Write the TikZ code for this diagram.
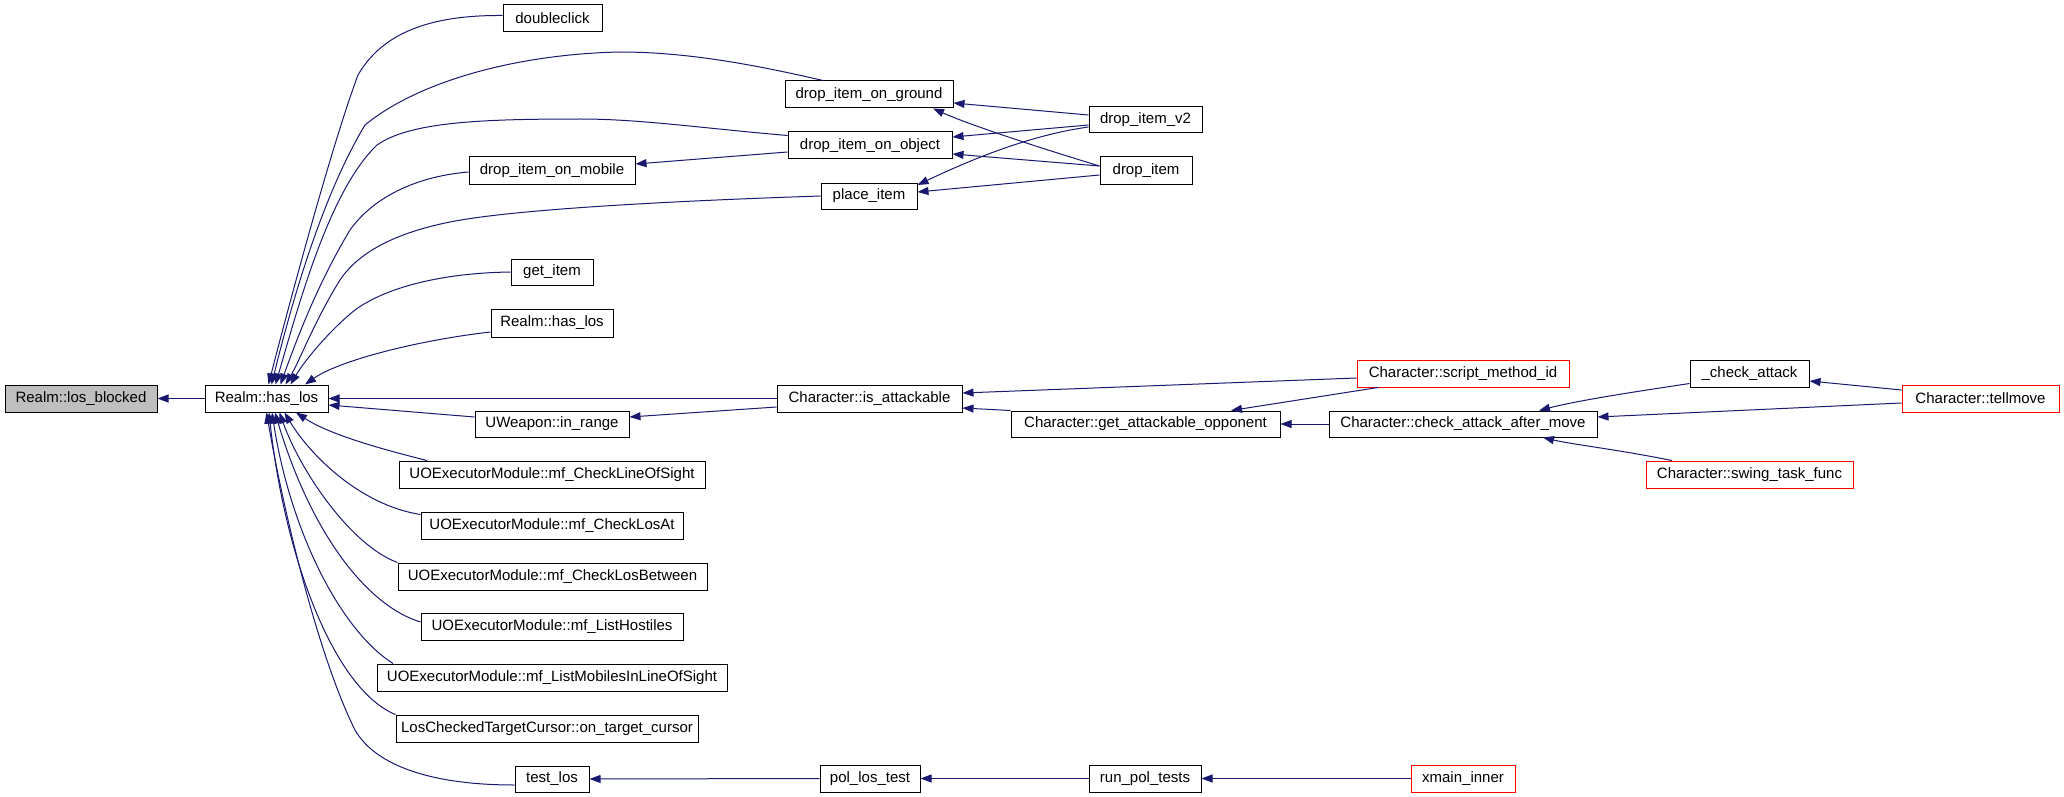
\documentclass[tikz,border=0pt]{standalone}
\usepackage{fontspec}
\setmainfont{Liberation Sans}
\usetikzlibrary{arrows.meta}
\definecolor{edgeblue}{HTML}{191970}
\definecolor{boxgray}{HTML}{BFBFBF}
\definecolor{boxred}{HTML}{FF0000}
\begin{document}
\begin{tikzpicture}[x=1pt,y=-1pt,
  fn/.style={draw=black, line width=1pt, inner sep=0pt, font=\fontsize{15}{18}\selectfont, fill=white},
  fnred/.style={fn, draw=boxred},
  fngray/.style={fn, fill=boxgray},
  edge/.style={draw=edgeblue, line width=1pt, -{Triangle[length=11pt,width=8pt]}},
]
\useasboundingbox (0,0) rectangle (2064,797);
\fill[white] (0,0) rectangle (2064,797);

% nodes
\node[fngray, minimum width=152pt, minimum height=27pt] (lb) at (81,398.5) {Realm::los\_blocked};
\node[fn, minimum width=123pt, minimum height=27pt] (hl) at (266.5,398.5) {Realm::has\_los};
\node[fn, minimum width=99pt, minimum height=27pt] (dc) at (552.5,18.5) {doubleclick};
\node[fn, minimum width=168pt, minimum height=27pt] (gr) at (869,94.5) {drop\_item\_on\_ground};
\node[fn, minimum width=164pt, minimum height=27pt] (ob) at (870,145.5) {drop\_item\_on\_object};
\node[fn, minimum width=166pt, minimum height=27pt] (mo) at (552,170.5) {drop\_item\_on\_mobile};
\node[fn, minimum width=96pt, minimum height=26pt] (pl) at (869,196) {place\_item};
\node[fn, minimum width=113pt, minimum height=26pt] (v2) at (1145.5,120) {drop\_item\_v2};
\node[fn, minimum width=92pt, minimum height=27pt] (di) at (1146,170.5) {drop\_item};
\node[fn, minimum width=82pt, minimum height=26pt] (gi) at (552,272) {get\_item};
\node[fn, minimum width=122pt, minimum height=28pt] (h2) at (552,323) {Realm::has\_los};
\node[fn, minimum width=185pt, minimum height=27pt] (ia) at (869.5,398.5) {Character::is\_attackable};
\node[fn, minimum width=154pt, minimum height=26pt] (ir) at (552,424) {UWeapon::in\_range};
\node[fnred, minimum width=212pt, minimum height=27pt] (sm) at (1463,373.5) {Character::script\_method\_id};
\node[fn, minimum width=269pt, minimum height=26pt] (op) at (1145.5,424) {Character::get\_attackable\_opponent};
\node[fn, minimum width=268pt, minimum height=26pt] (ck) at (1463,424) {Character::check\_attack\_after\_move};
\node[fn, minimum width=119pt, minimum height=27pt] (ca) at (1749.5,373.5) {\_check\_attack};
\node[fnred, minimum width=157pt, minimum height=27pt] (tm) at (1980.5,398.5) {Character::tellmove};
\node[fnred, minimum width=207pt, minimum height=27pt] (sw) at (1749.5,474.5) {Character::swing\_task\_func};
\node[fn, minimum width=306pt, minimum height=27pt] (c1) at (552,474.5) {UOExecutorModule::mf\_CheckLineOfSight};
\node[fn, minimum width=262pt, minimum height=27pt] (c2) at (552,525.5) {UOExecutorModule::mf\_CheckLosAt};
\node[fn, minimum width=309pt, minimum height=27pt] (c3) at (552.5,576.5) {UOExecutorModule::mf\_CheckLosBetween};
\node[fn, minimum width=262pt, minimum height=27pt] (c4) at (552,626.5) {UOExecutorModule::mf\_ListHostiles};
\node[fn, minimum width=350pt, minimum height=27pt] (c5) at (552,677.5) {UOExecutorModule::mf\_ListMobilesInLineOfSight};
\node[fn, minimum width=302pt, minimum height=27pt] (c6) at (547,728.5) {LosCheckedTargetCursor::on\_target\_cursor};
\node[fn, minimum width=74pt, minimum height=26pt] (tl) at (552,779) {test\_los};
\node[fn, minimum width=100pt, minimum height=27pt] (pt) at (870,778.5) {pol\_los\_test};
\node[fn, minimum width=112pt, minimum height=27pt] (rp) at (1145,778.5) {run\_pol\_tests};
\node[fnred, minimum width=104pt, minimum height=27pt] (xm) at (1463,778.5) {xmain\_inner};

% edges into Realm::has_los (left)
\draw[edge] (hl.west) -- (lb.east);
\draw[edge] ([yshift=3pt]dc.west) .. controls (440,15) and (385,28) .. (358,75) .. controls (330,150) and (285,320) .. ([xshift=2pt]hl.north);
\draw[edge] ([xshift=-46pt]gr.north) .. controls (760,66) and (690,52) .. (620,52) .. controls (520,54) and (420,80) .. (365,125) .. controls (320,200) and (290,310) .. ([xshift=5pt]hl.north);
\draw[edge] ([yshift=10pt]ob.west) .. controls (700,128) and (640,119) .. (580,119) .. controls (480,119) and (410,122) .. (377,145) .. controls (330,190) and (300,300) .. ([xshift=9pt]hl.north);
\draw[edge] ([yshift=-1.5pt]mo.west) .. controls (420,176) and (375,195) .. (350,230) .. controls (320,280) and (300,330) .. ([xshift=14pt]hl.north);
\draw[edge] (pl.west) .. controls (700,200) and (520,208) .. (450,222) .. controls (400,232) and (360,250) .. (340,280) .. controls (315,320) and (300,360) .. ([xshift=19pt]hl.north);
\draw[edge] (gi.west) .. controls (440,273) and (385,288) .. (355,310) .. controls (330,330) and (305,360) .. ([xshift=24pt]hl.north);
\draw[edge] ([yshift=-9pt]h2.west) .. controls (420,340) and (340,360) .. ([xshift=38.5pt]hl.north);
\draw[edge] (ia.west) -- (hl.east);
\draw[edge] ([yshift=7pt]ir.west) -- ([yshift=-6.5pt]hl.east);
\draw[edge] ([xshift=-125pt]c1.north) .. controls (385,450) and (330,435) .. ([xshift=29.5pt]hl.south);
\draw[edge] ([yshift=11pt]c2.west) .. controls (360,505) and (310,455) .. ([xshift=18pt]hl.south);
\draw[edge] (c3.north west) .. controls (350,545) and (300,470) .. ([xshift=13pt]hl.south);
\draw[edge] ([yshift=4.5pt]c4.west) .. controls (365,605) and (310,530) .. ([xshift=8.5pt]hl.south);
\draw[edge] ([xshift=-159pt]c5.north) .. controls (340,630) and (290,530) .. ([xshift=5.5pt]hl.south);
\draw[edge] (c6.north west) .. controls (335,690) and (285,560) .. ([xshift=2.5pt]hl.south);
\draw[edge] ([yshift=-6pt]tl.west) .. controls (430,785) and (375,765) .. (355,730) .. controls (320,660) and (285,520) .. (hl.south);

% drop item cluster
\draw[edge] ([yshift=5pt]v2.west) -- ([yshift=-8.5pt]gr.east);
\draw[edge] ([yshift=4.5pt]di.west) .. controls (1040,148) and (970,125) .. ([xshift=64pt]gr.south);
\draw[edge] ([yshift=-5pt]v2.west) -- ([yshift=8.5pt]ob.east);
\draw[edge] ([yshift=4.5pt]di.west) -- ([yshift=-8.5pt]ob.east);
\draw[edge] ([yshift=-7pt]v2.west) .. controls (1030,135) and (970,160) .. ([yshift=11pt]pl.east);
\draw[edge] ([yshift=-4.5pt]di.west) -- ([yshift=4pt]pl.east);
\draw[edge] ([yshift=-6.5pt]ob.west) -- ([yshift=6.5pt]mo.east);

% attack cluster
\draw[edge] ([yshift=-8.5pt]ia.west) -- ([yshift=7pt]ir.east);
\draw[edge] ([yshift=-4.5pt]sm.west) -- ([yshift=5.5pt]ia.east);
\draw[edge] (op.north west) -- ([yshift=-9.5pt]ia.east);
\draw[edge] ([xshift=-85pt]sm.south) -- ([xshift=85.5pt]op.north);
\draw[edge] (ck.west) -- (op.east);
\draw[edge] ([yshift=-10pt]ca.west) .. controls (1640,391) and (1580,400) .. ([xshift=76pt]ck.north);
\draw[edge] ([yshift=-4.5pt]tm.west) -- ([yshift=7pt]ck.east);
\draw[edge] ([xshift=-77.5pt]sw.north) .. controls (1620,450) and (1570,444) .. ([xshift=80pt]ck.south);
\draw[edge] ([yshift=8.5pt]tm.west) -- ([yshift=-7.5pt]ca.east);

% test chain
\draw[edge] (pt.west) -- (tl.east);
\draw[edge] (rp.west) -- (pt.east);
\draw[edge] (xm.west) -- (rp.east);
\end{tikzpicture}
\end{document}
